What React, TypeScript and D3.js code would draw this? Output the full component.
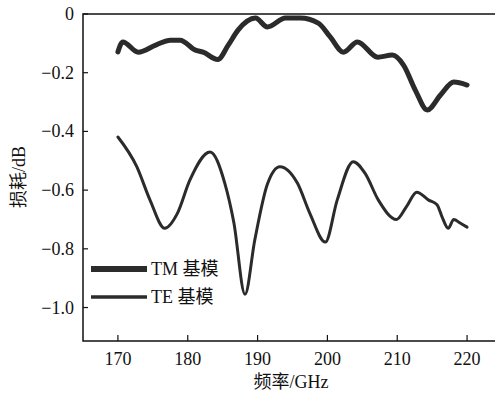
import React from 'react';
import * as d3 from 'd3';

// Frequency (GHz) and loss (dB)
const tmFreq = [170, 170.7, 172.9, 175.5, 177.5, 178.9, 181.1, 182.2, 184.3, 185.8, 187.2, 189.7, 191.4, 194, 196.1, 198.7, 200.4, 202.3, 204.3, 207.2, 209.3, 210.9, 212.6, 214.3, 216.2, 218.1, 220];
const tmLoss = [-0.129, -0.095, -0.13, -0.105, -0.089, -0.089, -0.123, -0.13, -0.155, -0.106, -0.055, -0.014, -0.044, -0.014, -0.014, -0.031, -0.078, -0.13, -0.095, -0.147, -0.14, -0.174, -0.26, -0.327, -0.276, -0.232, -0.242];

const teFreq = [170, 172.7, 174.6, 176.7, 178.5, 180.3, 183.2, 185.3, 186.6, 188.2, 189.6, 191.4, 193.2, 195.7, 197.5, 199.7, 201.4, 203.7, 205.4, 207.3, 209.9, 211.3, 212.8, 214.5, 215.7, 216.4, 217.3, 218.1, 219, 220];
const teLoss = [-0.419, -0.52, -0.634, -0.73, -0.68, -0.566, -0.47, -0.576, -0.71, -0.955, -0.77, -0.58, -0.52, -0.576, -0.68, -0.777, -0.634, -0.503, -0.543, -0.634, -0.7, -0.657, -0.607, -0.634, -0.65, -0.69, -0.73, -0.7, -0.712, -0.726];

const xTicks = [170, 180, 190, 200, 210, 220];
const yTicks = [0, -0.2, -0.4, -0.6, -0.8, -1.0];
const seriesNames = ['TM 基模', 'TE 基模'];

const W = 495;
const H = 394;
const margin = { top: 14, right: 0, bottom: 53, left: 83 };
const font = '"Liberation Serif", "Times New Roman", serif';
const cjk = '"Noto Sans CJK SC", "Liberation Serif", serif';
const ink = '#2b2b2b';

const fmt = (v: number) => (v === 0 ? '0' : '\u2212' + Math.abs(v).toFixed(1));

const App = () => {
  const x = d3.scaleLinear().domain([165, 224]).range([margin.left, W - margin.right]);
  const y = d3.scaleLinear().domain([-1.114, 0]).range([H - margin.bottom, margin.top]);

  const line = d3.line<[number, number]>()
    .x(d => x(d[0]))
    .y(d => y(d[1]))
    .curve(d3.curveMonotoneX);

  const tm = tmFreq.map((f, i) => [f, tmLoss[i]] as [number, number]);
  const te = teFreq.map((f, i) => [f, teLoss[i]] as [number, number]);

  const x0 = margin.left;
  const y0 = H - margin.bottom;

  return (
    <svg width={W} height={H} style={{ position: 'absolute', left: 0, top: 0, background: '#fff' }}>
      {/* frame: left, top, bottom */}
      <path d={`M${W},${margin.top}H${x0}V${y0}H${W}`} fill="none" stroke="#111" strokeWidth={1.5} />

      {/* x ticks */}
      {xTicks.map(t => (
        <g key={t}>
          <line x1={x(t)} x2={x(t)} y1={y0} y2={y0 - 6} stroke="#111" strokeWidth={1.2} />
          <text x={x(t)} y={y0 + 24} textAnchor="middle" fontFamily={font} fontSize={18} fill="#111">{t}</text>
        </g>
      ))}

      {/* y ticks */}
      {yTicks.map(t => (
        <g key={t}>
          <line x1={x0} x2={x0 + 5} y1={y(t)} y2={y(t)} stroke="#111" strokeWidth={1.2} />
          <text x={74} y={y(t) + 6} textAnchor="end" fontFamily={font} fontSize={18} fill="#111">{fmt(t)}</text>
        </g>
      ))}

      {/* axis titles */}
      <text x={291} y={388} textAnchor="middle" fontFamily={cjk} fontSize={18} fill="#111">
        频率<tspan fontFamily={font}>/GHz</tspan>
      </text>
      <text transform="translate(25,177) rotate(-90)" textAnchor="middle" fontFamily={cjk} fontSize={18} fill="#111">
        损耗<tspan fontFamily={font}>/dB</tspan>
      </text>

      {/* curves */}
      <path d={line(tm) || ''} fill="none" stroke={ink} strokeWidth={5} strokeLinejoin="round" strokeLinecap="round" />
      <path d={line(te) || ''} fill="none" stroke={ink} strokeWidth={3} strokeLinejoin="round" strokeLinecap="round" />

      {/* legend */}
      <line x1={91} x2={147} y1={269} y2={269} stroke={ink} strokeWidth={6} />
      <text x={151} y={275} fontFamily={font} fontSize={18} fill="#111">
        {seriesNames[0].split(' ')[0]} <tspan fontFamily={cjk}>{seriesNames[0].split(' ')[1]}</tspan>
      </text>
      <line x1={91} x2={147} y1={297} y2={297} stroke={ink} strokeWidth={3.5} />
      <text x={151} y={303} fontFamily={font} fontSize={18} fill="#111">
        {seriesNames[1].split(' ')[0]} <tspan fontFamily={cjk}>{seriesNames[1].split(' ')[1]}</tspan>
      </text>
    </svg>
  );
};

export default App;
